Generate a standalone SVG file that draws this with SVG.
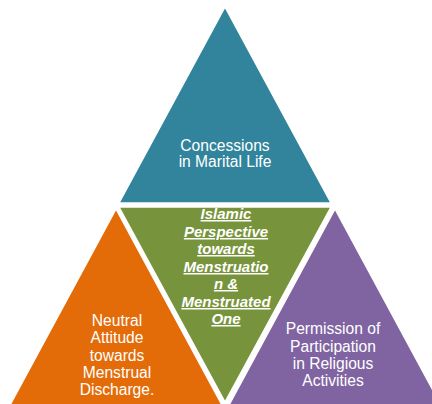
<svg xmlns="http://www.w3.org/2000/svg" width="432" height="404" viewBox="0 0 432 404">
<style>
.tri{stroke:#ffffff;stroke-width:1.5;stroke-linejoin:miter}
.t{font-family:"Liberation Sans",Arial,sans-serif;font-size:15.6px;fill:#ffffff;text-anchor:middle}
.c{font-size:15px;font-weight:bold;font-style:italic;text-decoration:underline}
</style>
<rect width="432" height="404" fill="#ffffff"/>
<g id="top">
<polygon class="tri" points="225,7 119,203 331,203" fill="#31849B"/>
<text class="t" x="225" y="151">Concessions</text>
<text class="t" x="225" y="167">in Marital Life</text>
</g>
<g id="center">
<polygon class="tri" points="119,207 331,207 225,402" fill="#77933C"/>
<text class="t c" x="226" y="219">Islamic</text>
<text class="t c" x="226" y="237">Perspective</text>
<text class="t c" x="226" y="254">towards</text>
<text class="t c" x="226" y="272">Menstruatio</text>
<text class="t c" x="226" y="289">n &amp;</text>
<text class="t c" x="226" y="307">Menstruated</text>
<text class="t c" x="226" y="324">One</text>
</g>
<g id="left">
<polygon class="tri" points="116,209 10,405 222,405" fill="#E36C09"/>
<text class="t" x="117" y="326">Neutral</text>
<text class="t" x="117" y="343">Attitude</text>
<text class="t" x="117" y="361">towards</text>
<text class="t" x="117" y="378">Menstrual</text>
<text class="t" x="117" y="395">Discharge.</text>
</g>
<g id="right">
<polygon class="tri" points="335,209 229,405 441,405" fill="#8064A2"/>
<text class="t" x="333" y="334">Permission of</text>
<text class="t" x="333" y="352">Participation</text>
<text class="t" x="333" y="369">in Religious</text>
<text class="t" x="333" y="386">Activities</text>
</g>
<g id="connectors"/>
</svg>
